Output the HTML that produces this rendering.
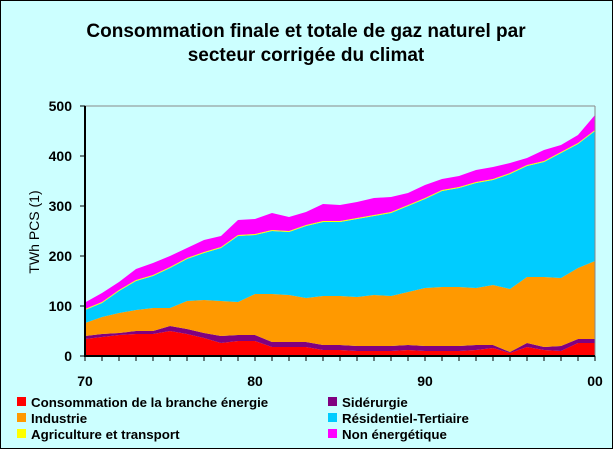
<!DOCTYPE html>
<html><head><meta charset="utf-8"><style>
body{margin:0;background:#fff}
svg{display:block;font-family:"Liberation Sans",Arial,sans-serif}
</style></head><body>
<svg id="chart" width="613" height="449" viewBox="0 0 613 449">
<rect x="0.5" y="0.5" width="612" height="448" fill="#CCFFFF" stroke="#000"/>
<text x="306" y="37" text-anchor="middle" font-size="19" font-weight="bold">Consommation finale et totale de gaz naturel par</text>
<text x="306" y="61" text-anchor="middle" font-size="19" font-weight="bold">secteur corrigée du climat</text>
<g id="areas"></g>
<g id="axes"></g>
<text transform="translate(39,232) rotate(-90)" text-anchor="middle" font-size="14">TWh PCS (1)</text>
<g id="legend"></g>
</svg>
<script>
const years = [1970,1971,1972,1973,1974,1975,1976,1977,1978,1979,1980,1981,1982,1983,1984,1985,1986,1987,1988,1989,1990,1991,1992,1993,1994,1995,1996,1997,1998,1999,2000];
const brancheEnergie = [34,38,42,44,44,50,44,36,26,30,30,18,18,18,12,12,10,10,10,12,10,10,10,12,16,6,18,12,10,26,26];
const siderurgie = [6,6,4,6,6,10,10,10,14,12,12,10,10,10,10,10,10,10,10,10,10,10,10,10,6,2,8,6,10,8,8];
const industrie = [26,34,40,42,46,36,56,66,70,66,82,96,94,88,98,98,98,102,100,106,116,118,118,114,120,126,132,140,136,142,156];
const residentiel = [26,28,44,58,64,80,84,94,106,132,118,126,126,144,148,148,156,158,166,172,178,192,198,210,210,230,222,230,250,248,260];
const agriculture = [2,2,2,2,2,2,2,2,2,2,2,2,2,2,2,2,2,2,2,2,2,2,2,2,2,2,2,2,2,2,2];
const nonEnergetique = [13,18,16,22,24,22,20,24,22,30,30,34,28,26,34,32,32,34,30,24,26,22,22,24,24,20,14,22,14,16,30];
const yTicks = [0,100,200,300,400,500];
const xTickLabels = ["70","80","90","00"];
const xTickYears = [1970,1980,1990,2000];
const seriesNames = ["Consommation de la branche énergie","Sidérurgie","Industrie","Résidentiel-Tertiaire","Agriculture et transport","Non énergétique"];

const NS="http://www.w3.org/2000/svg";
const X0=85,X1=595,Y0=356,Y1=106;
const xs=y=>X0+(y-1970)*(X1-X0)/30;
const ys=v=>Y0-v*(Y0-Y1)/500;
function mk(t,a,p){const e=document.createElementNS(NS,t);for(const k in a)e.setAttribute(k,a[k]);p.appendChild(e);return e;}
const series=[brancheEnergie,siderurgie,industrie,residentiel,agriculture,nonEnergetique];
const colors=["#FF0000","#800080","#FF9900","#00CCFF","#FFFF00","#FF00FF"];
const slugs=["area-branche-energie","area-siderurgie","area-industrie","area-residentiel-tertiaire","area-agriculture-transport","area-non-energetique"];
const areas=document.getElementById('areas');
let base=years.map(()=>0);
series.forEach((s,i)=>{
  const top=base.map((b,j)=>b+s[j]);
  let d="M"+years.map((y,j)=>xs(y)+","+ys(top[j])).join(" L");
  for(let j=years.length-1;j>=0;j--) d+=" L"+xs(years[j])+","+ys(base[j]);
  const p=mk('path',{d:d+"Z",fill:colors[i]},areas);
  
  
  base=top;
});
const ax=document.getElementById('axes');
mk('line',{x1:X0,y1:Y1,x2:X1,y2:Y1,stroke:"#888","stroke-width":1},ax);
mk('line',{x1:X1,y1:Y1,x2:X1,y2:Y0,stroke:"#888","stroke-width":1},ax);
const yl=mk('line',{x1:X0,y1:Y1,x2:X0,y2:Y0+1,stroke:"#000","stroke-width":2},ax);


const xl=mk('line',{x1:X0,y1:Y0,x2:X1,y2:Y0,stroke:"#000","stroke-width":2},ax);


yTicks.forEach(v=>{
  mk('line',{x1:X0-5,y1:ys(v),x2:X0,y2:ys(v),stroke:"#000"},ax);
  const t=mk('text',{x:X0-13,y:ys(v)+5,"text-anchor":"end","font-size":14,"font-weight":"bold"},ax);
  t.textContent=v;
  
  
});
years.forEach(y=>mk('line',{x1:xs(y),y1:Y0,x2:xs(y),y2:Y0+5,stroke:"#000"},ax));
xTickYears.forEach((y,i)=>{
  const t=mk('text',{x:xs(y),y:386,"text-anchor":"middle","font-size":14,"font-weight":"bold"},ax);
  t.textContent=xTickLabels[i];
  
  
});
const lg=document.getElementById('legend');
seriesNames.forEach((n,i)=>{
  const col=i%2, row=Math.floor(i/2);
  const x=col?328:17, y=397+row*16;
  const g=mk('g',{},lg);
  
  
  mk('rect',{x:x,y:y,width:9,height:9,fill:colors[i]},g);
  const t=mk('text',{x:x+14,y:y+10,"font-size":13.3,"font-weight":"bold"},g);
  t.textContent=n;
});
</script>
</body></html>
